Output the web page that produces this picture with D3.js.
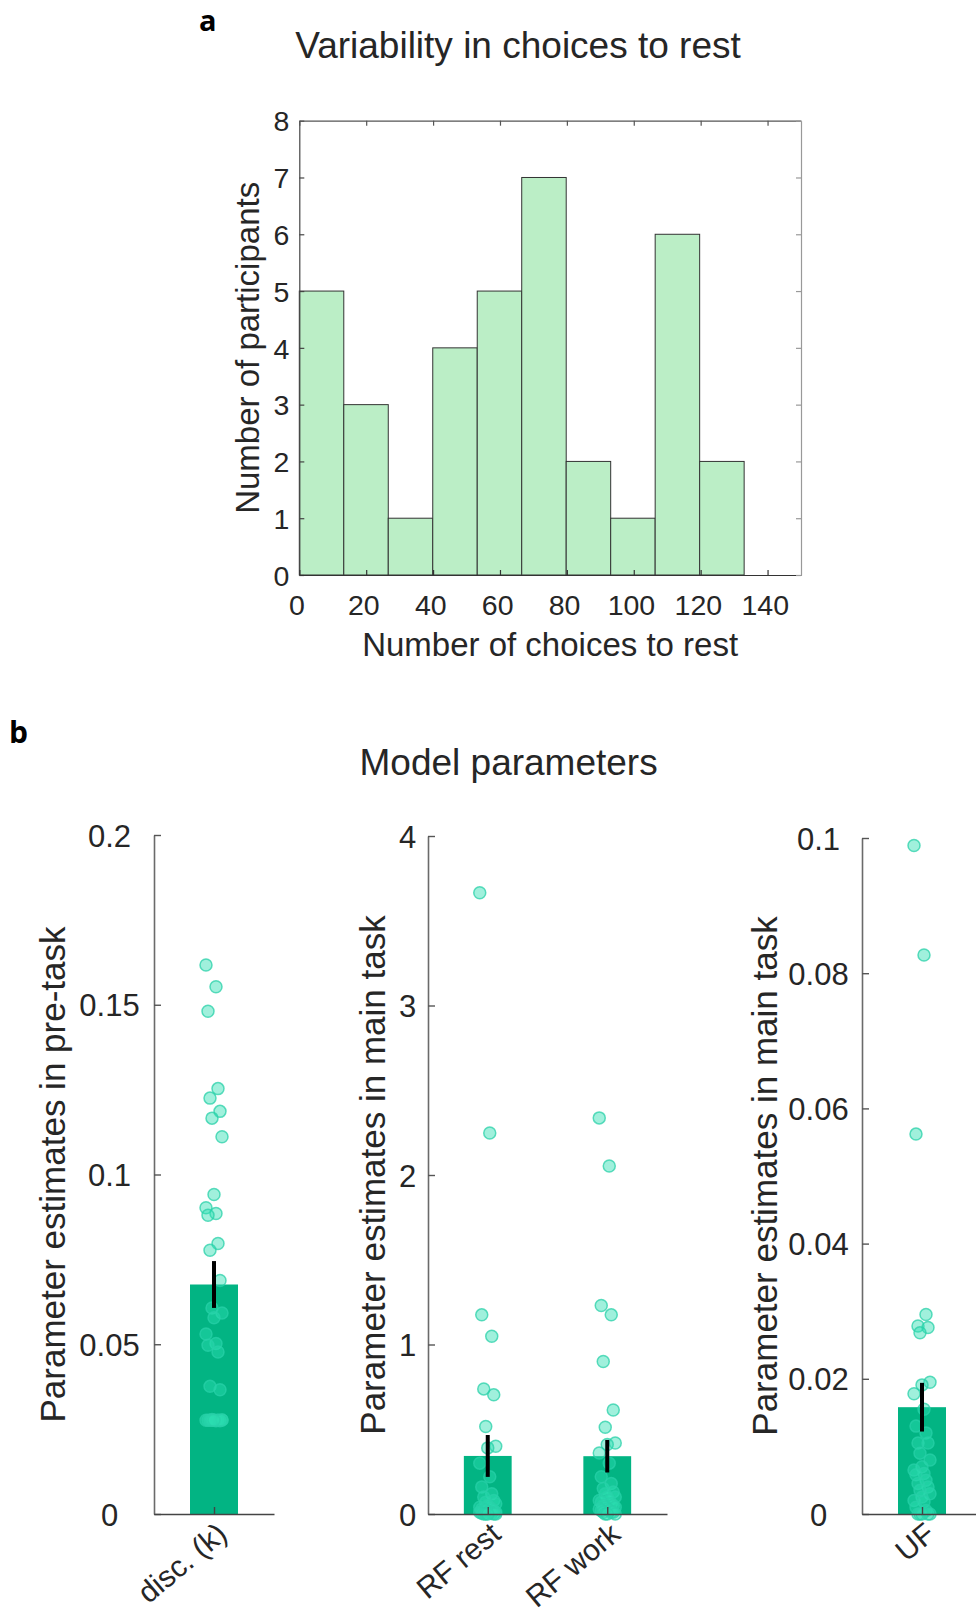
<!DOCTYPE html>
<html><head><meta charset="utf-8">
<script src="https://cdn.jsdelivr.net/npm/d3@7"></script>
<style>
html,body{margin:0;padding:0;background:#fff;}
text{font-family:"Liberation Sans",Arial,Helvetica,sans-serif;fill:#262626;}
.lbl{font-family:"Open Sans","Noto Sans",sans-serif;font-weight:700;fill:#000;}
</style></head>
<body>
<script>
// ---------- DATA ----------
const histCounts = [5, 3, 1, 4, 5, 7, 2, 1, 6, 2];
const binEdges = [0, 13.3, 26.6, 39.9, 53.2, 66.5, 79.8, 93.1, 106.4, 119.7, 133];
const histXTicks = [0, 20, 40, 60, 80, 100, 120, 140];
const histYTicks = [0, 1, 2, 3, 4, 5, 6, 7, 8];

const preCategories = ["disc. (k)"];
const preMeans = [0.0676];
const preSems = [0.0069];
const discK = [0.1617, 0.1553, 0.1481, 0.1253, 0.1225, 0.1186, 0.1166, 0.1111, 0.0941, 0.0902,
  0.0885, 0.0880, 0.0797, 0.0777, 0.0688, 0.0607, 0.0592, 0.0578, 0.0530, 0.0502, 0.0497, 0.0477,
  0.0376, 0.0366, 0.0278, 0.0277, 0.0276, 0.0276, 0.0275, 0.0276, 0.0277, 0.0276, 0.0275, 0.0276,
  0.0277, 0.0276];
const preYTicks = [0, 0.05, 0.1, 0.15, 0.2];

const rfCategories = ["RF rest", "RF work"];
const rfMeans = [0.3425, 0.341];
const rfSems = [0.1235, 0.096];
const rfRest = [3.665, 2.248, 1.175, 1.049, 0.738, 0.703, 0.516, 0.40, 0.39, 0.30, 0.22, 0.16,
  0.12, 0.10, 0.08, 0.07, 0.06, 0.05, 0.04, 0.04, 0.03, 0.03, 0.02, 0.02, 0.02, 0.01, 0.01, 0.01,
  0.01, 0.005, 0.005, 0, 0, 0, 0, 0];
const rfWork = [2.337, 2.053, 1.230, 1.175, 0.900, 0.614, 0.512, 0.419, 0.41, 0.36, 0.30, 0.22,
  0.18, 0.15, 0.13, 0.12, 0.10, 0.10, 0.08, 0.08, 0.07, 0.06, 0.05, 0.05, 0.04, 0.04, 0.03, 0.03,
  0.02, 0.02, 0.01, 0.01, 0.01, 0, 0, 0];
const rfYTicks = [0, 1, 2, 3, 4];

const ufCategories = ["UF"];
const ufMeans = [0.0158];
const ufSems = [0.0036];
const ufVals = [0.0989, 0.0827, 0.0562, 0.0295, 0.0278, 0.0276, 0.0268, 0.0195, 0.0191, 0.0178,
  0.0155, 0.013, 0.012, 0.0105, 0.0105, 0.009, 0.008, 0.007, 0.0065, 0.006, 0.0058, 0.005, 0.0045,
  0.004, 0.0035, 0.003, 0.0025, 0.002, 0.0018, 0.001, 0.0005, 0, 0, 0, 0, 0];
const ufYTicks = [0, 0.02, 0.04, 0.06, 0.08, 0.1];

// ---------- DRAW ----------
const W = 976, H = 1615;
const svg = d3.select("body").append("svg").attr("width", W).attr("height", H)
  .style("background", "#fff");

// ===== Panel a =====
svg.append("text").attr("class", "lbl").attr("x", 199).attr("y", 31)
  .style("font-size", "29px").text("a");
svg.append("text").attr("x", 518).attr("y", 58).attr("text-anchor", "middle")
  .style("font-size", "37px").text("Variability in choices to rest");

const ax = {l: 299.3, r: 801, t: 120.7, b: 575};
const hx = d3.scaleLinear().domain([0, 150]).range([ax.l, ax.r]);
const hy = d3.scaleLinear().domain([0, 8]).range([ax.b, ax.t]);
const ga = svg.append("g");

ga.selectAll("rect.bin").data(histCounts).join("rect").attr("class", "bin")
  .attr("x", (d, i) => hx(binEdges[i]))
  .attr("width", (d, i) => hx(binEdges[i + 1]) - hx(binEdges[i]))
  .attr("y", d => hy(d)).attr("height", d => hy(0) - hy(d))
  .attr("fill", "#bbeec6").attr("stroke", "#333").attr("stroke-width", 1);

function styleAxis(g, color, fs) {
  g.select(".domain").attr("stroke", color).attr("stroke-width", 1.2);
  g.selectAll(".tick line").attr("stroke", color).attr("stroke-width", 1.2);
  g.selectAll(".tick text").style("font-size", fs + "px").attr("fill", "#262626")
    .style("font-family", '"Liberation Sans",Arial,sans-serif');
}
const axL = ga.append("g").attr("transform", `translate(${ax.l},0)`)
  .call(d3.axisLeft(hy).tickValues(histYTicks).tickSizeInner(-5).tickSizeOuter(0).tickPadding(10));
styleAxis(axL, "#444", 28.5);
axL.selectAll(".tick text").attr("dy", "0.36em");
const axB = ga.append("g").attr("transform", `translate(0,${ax.b})`)
  .call(d3.axisBottom(hx).tickValues(histXTicks).tickSizeInner(-5).tickSizeOuter(0).tickPadding(20));
styleAxis(axB, "#333", 28.5);
axB.selectAll(".tick text").attr("dx", "-0.1em");
const axT = ga.append("g").attr("transform", `translate(0,${ax.t})`)
  .call(d3.axisTop(hx).tickValues(histXTicks).tickSizeInner(-5).tickSizeOuter(0).tickFormat(""));
styleAxis(axT, "#555", 28.5);
const axR = ga.append("g").attr("transform", `translate(${ax.r},0)`)
  .call(d3.axisRight(hy).tickValues(histYTicks).tickSizeInner(-5).tickSizeOuter(0).tickFormat(""));
styleAxis(axR, "#999", 28.5);

ga.append("text").attr("transform", `translate(259,${(ax.t + ax.b) / 2}) rotate(-90)`)
  .attr("text-anchor", "middle").style("font-size", "33px").text("Number of participants");
ga.append("text").attr("x", (ax.l + ax.r) / 2).attr("y", 656).attr("text-anchor", "middle")
  .style("font-size", "33px").text("Number of choices to rest");

// ===== Panel b =====
svg.append("text").attr("class", "lbl").attr("x", 9).attr("y", 742.7)
  .style("font-size", "30px").text("b");
svg.append("text").attr("x", 508.6).attr("y", 775).attr("text-anchor", "middle")
  .style("font-size", "37px").text("Model parameters");

const BOTTOM = 1514;
function barPanel(opt) {
  const g = svg.append("g");
  const n = opt.categories.length;
  const x = d3.scaleLinear().domain([0.5, n + 0.5]).range([opt.left, opt.right]);
  const y = d3.scaleLinear().domain([0, opt.ymax]).range([BOTTOM, opt.top]);
  const bw = x(0.4) - x(0);
  // bars
  g.selectAll("rect.bar").data(opt.means).join("rect").attr("class", "bar")
    .attr("x", (d, i) => x(i + 1) - bw / 2).attr("width", bw)
    .attr("y", d => y(d)).attr("height", d => y(0) - y(d))
    .attr("fill", "#02b483");
  // dots
  opt.series.forEach((vals, i) => {
    g.selectAll(null).data(vals).join("circle")
      .attr("cx", (d, k) => x(i + 1) + ((((k * 5) % 9) - 4) * 2))
      .attr("cy", d => y(d)).attr("r", 6)
      .attr("fill", "rgba(45,222,178,0.45)")
      .attr("stroke", "rgba(40,208,168,0.75)").attr("stroke-width", 1.5);
  });
  // axes
  const gl = g.append("g").attr("transform", `translate(${opt.left},0)`)
    .call(d3.axisLeft(y).tickValues(opt.yTicks).tickSizeInner(-7).tickSizeOuter(0)
      .tickFormat(d => String(d)));
  gl.select(".domain").attr("stroke", "#6a6a6a").attr("stroke-width", 1.6);
  gl.selectAll(".tick line").attr("stroke", "#555").attr("stroke-width", 1.4);
  gl.selectAll(".tick text").style("font-size", "31px").attr("fill", "#262626")
    .style("font-family", '"Liberation Sans",Arial,sans-serif')
    .attr("text-anchor", "middle").attr("x", -opt.labelOffset).attr("dy", "0.36em");
  const gb = g.append("g").attr("transform", `translate(0,${BOTTOM})`)
    .call(d3.axisBottom(x).tickValues(d3.range(1, n + 1)).tickSizeInner(-7).tickSizeOuter(0)
      .tickFormat(""));
  gb.select(".domain").attr("stroke", "#444").attr("stroke-width", 1.6);
  gb.selectAll(".tick line").attr("stroke", "#444").attr("stroke-width", 1.4);
  // error bars
  g.selectAll("line.err").data(opt.means).join("line").attr("class", "err")
    .attr("x1", (d, i) => x(i + 1)).attr("x2", (d, i) => x(i + 1))
    .attr("y1", (d, i) => y(d - opt.sems[i])).attr("y2", (d, i) => y(d + opt.sems[i]))
    .attr("stroke", "#000").attr("stroke-width", 4);
  // rotated category labels
  g.selectAll("text.cat").data(opt.categories).join("text").attr("class", "cat")
    .attr("transform", (d, i) => `translate(${x(i + 1) + 15},${BOTTOM + 23}) rotate(-40)`)
    .attr("text-anchor", "end")
    .style("font-size", "30px").text(d => d);
  // y label
  g.append("text")
    .attr("transform", `translate(${opt.ylabelX},${(opt.top + BOTTOM) / 2}) rotate(-90)`)
    .attr("text-anchor", "middle").style("font-size", "35px").text(opt.ylabel);
}

barPanel({left: 154, right: 274, top: 835, ymax: 0.2, categories: preCategories,
  means: preMeans, sems: preSems, series: [discK], yTicks: preYTicks, labelOffset: 44.5,
  ylabelX: 65, ylabel: "Parameter estimates in pre-task"});
barPanel({left: 428, right: 667, top: 836, ymax: 4, categories: rfCategories,
  means: rfMeans, sems: rfSems, series: [rfRest, rfWork], yTicks: rfYTicks, labelOffset: 20.5,
  ylabelX: 385, ylabel: "Parameter estimates in main task"});
barPanel({left: 862, right: 982, top: 838, ymax: 0.1, categories: ufCategories,
  means: ufMeans, sems: ufSems, series: [ufVals], yTicks: ufYTicks, labelOffset: 43.5,
  ylabelX: 776.5, ylabel: "Parameter estimates in main task"});
</script>
</body></html>
